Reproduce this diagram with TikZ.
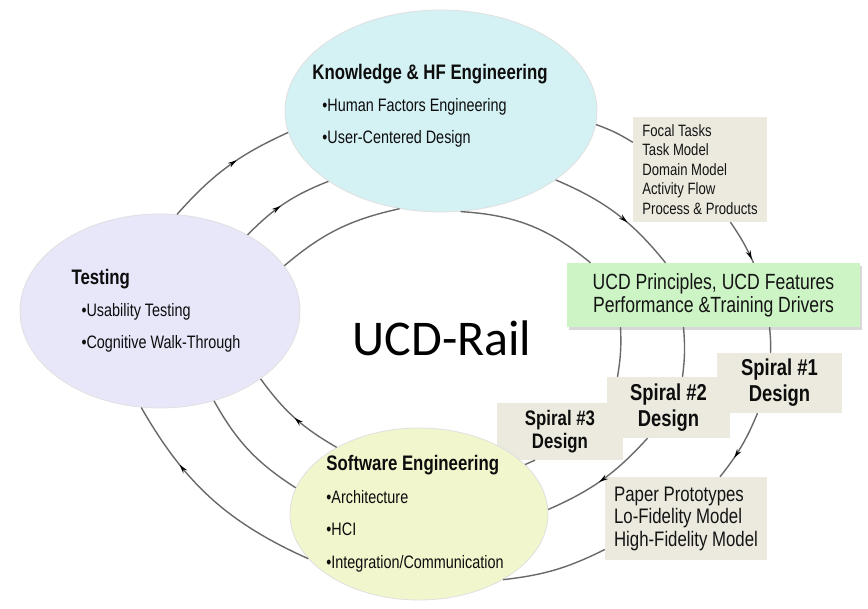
\documentclass[tikz,border=0pt]{standalone}
\usepackage{fontspec}
\newfontfamily\boxfont{Liberation Sans}[FakeStretch=0.8]
\newfontfamily\railfont{Carlito}
\usetikzlibrary{positioning,shapes.geometric,arrows.meta,decorations.markings,shadows}

\definecolor{knowfill}{RGB}{212,241,244}
\definecolor{testfill}{RGB}{232,231,250}
\definecolor{softfill}{RGB}{242,246,204}
\definecolor{ucdgreen}{RGB}{204,244,196}
\definecolor{beige}{RGB}{236,234,222}
\definecolor{linkgray}{RGB}{105,105,105}

\tikzset{
  bubble/.style={ellipse, draw=black!12, line width=0.8pt, inner sep=0pt},
  bubbletext/.style={align=left, inner sep=0pt, text=black!95, font=\boxfont\fontsize{18}{32}\selectfont},
  notebox/.style={rectangle, fill=beige, inner sep=0pt, align=left, text=black!92},
  spiralbox/.style={rectangle, fill=beige, inner sep=0pt, align=center, text=black!95, font=\boxfont\bfseries\fontsize{23}{26}\selectfont},
  link/.style={draw=linkgray, line width=1.4pt},
  flow/.style={postaction={decorate}, decoration={markings, mark=at position #1 with {\arrow{Stealth[length=9pt,width=5pt,color=black]}}}},
  flow/.default=0.5
}

\begin{document}
\begin{tikzpicture}[x=1pt, y=1pt]
  \fill[white] (0,0) rectangle (868,-609);
  \useasboundingbox (0,0) rectangle (868,-609);

  % boxes on the right
  \node[notebox, minimum width=134pt, minimum height=105pt, font=\boxfont\fontsize{16.4}{19.5}\selectfont] (focal) at (700,-169.5) {Focal Tasks\\Task Model\\Domain Model\\Activity Flow\\Process \& Products};
  \node[notebox, fill=ucdgreen, align=center, minimum width=293pt, minimum height=64pt, drop shadow={opacity=0.3, shadow xshift=2pt, shadow yshift=-3pt}, font=\boxfont\fontsize{22}{23}\selectfont] (green) at (713.5,-295) {UCD Principles, UCD Features\\Performance \&Training Drivers};
  \node[spiralbox, minimum width=126pt, minimum height=57pt, font=\boxfont\bfseries\fontsize{21}{23}\selectfont] (sp3) at (560,-431.5) {Spiral \#3\\Design};
  \node[spiralbox, minimum width=123pt, minimum height=61pt] (sp2) at (668.5,-407.5) {Spiral \#2\\Design};
  \node[spiralbox, minimum width=125pt, minimum height=60pt] (sp1) at (779.5,-383) {Spiral \#1\\Design};
  \node[notebox, minimum width=162pt, minimum height=83pt, font=\boxfont\fontsize{21}{22.5}\selectfont] (paper) at (686,-518.5) {Paper Prototypes\\Lo-Fidelity Model\\High-Fidelity Model};

  % the three bubbles
  \node[bubble, fill=knowfill, minimum width=312pt, minimum height=202pt] (know) at (441,-111) {};
  \node[bubble, fill=testfill, minimum width=280pt, minimum height=194pt] (test) at (160,-311) {};
  \node[bubble, fill=softfill, minimum width=258pt, minimum height=172pt] (soft) at (419,-514) {};

  \node[bubbletext] (know-text) at (430,-106) {{\bfseries\fontsize{21}{32}\selectfont Knowledge \& HF Engineering}\\\hspace*{10pt}•Human Factors Engineering\\\hspace*{10pt}•User-Centered Design};
  \node[bubbletext] (test-text) at (156,-311) {{\bfseries\fontsize{21}{32}\selectfont Testing}\\\hspace*{10pt}•Usability Testing\\\hspace*{10pt}•Cognitive Walk-Through};
  \node[bubbletext, font=\boxfont\fontsize{18}{32.5}\selectfont] (soft-text) at (415,-514) {{\bfseries\fontsize{21}{32}\selectfont Software Engineering}\\•Architecture\\•HCI\\•Integration/Communication};

  \node[font=\railfont\fontsize{50}{52}\selectfont] (rail) at (442,-338) {UCD-Rail};

  % outer loop
  \draw[link, flow=0.58] (test.80) to[bend left=12] (know.188);
  \draw[link] (know.355) to[bend left=6] (focal.158);
  \draw[link, flow=0.92] (focal.300) to[bend left=5] ([xshift=40pt]green.north);
  \draw[link] ([xshift=56pt]green.south) to[bend left=4] ([xshift=-9pt]sp1.north);
  \draw[link, flow=0.68] ([xshift=-22pt]sp1.south) to[bend left=8] ([xshift=34pt]paper.north);
  \draw[link] ([yshift=-31pt]paper.west) to[bend left=10] (soft.322);
  \draw[link, flow=0.7] (soft.202) to[bend left=18] (test.259);

  % middle loop
  \draw[link, flow=0.45] (test.41) to[bend left=12] (know.212);
  \draw[link, flow=0.6] (know.329) to[bend left=14] ([xshift=-48pt]green.north);
  \draw[link] ([xshift=-30pt]green.south) to[bend left=6] ([xshift=14pt]sp2.north);
  \draw[link, flow=0.53] ([xshift=-21pt]sp2.south) to[bend left=12] (soft.2);
  \draw[link] (soft.168) to[bend left=14] (test.301);

  % inner loop
  \draw[link] (test.20) to[bend left=14] (know.247);
  \draw[link] (know.281) to[bend left=18] ([xshift=-123pt]green.north);
  \draw[link] ([xshift=-93pt]green.south) to[bend left=6] ([xshift=-51pt]sp2.north);
  \draw[link] ([xshift=-25pt]sp3.south) -- (soft.25);
  \draw[link, flow=0.5] (soft.141) to[bend left=12] (test.326);
\end{tikzpicture}
\end{document}
